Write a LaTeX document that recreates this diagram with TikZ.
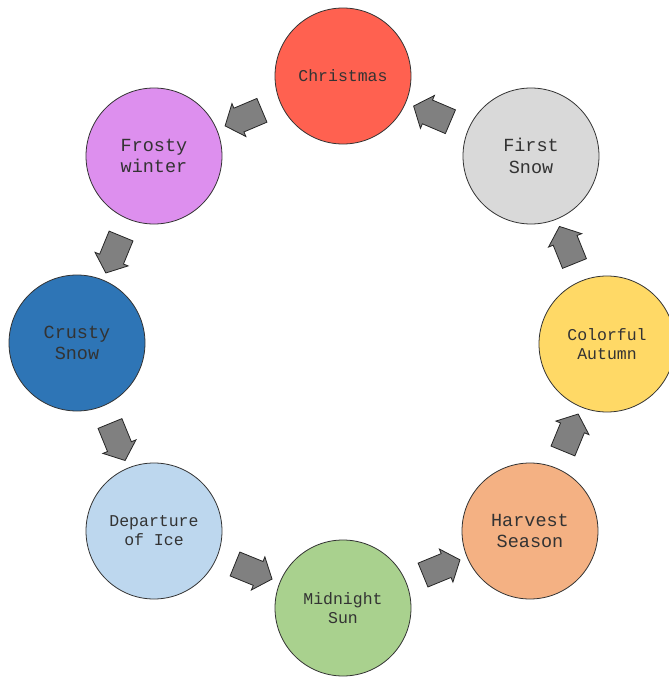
\documentclass[tikz,border=0pt]{standalone}
\usepackage{fontspec}
\setmonofont{Liberation Mono}
\usetikzlibrary{shapes.arrows,calc}
\definecolor{cRed}{HTML}{FF6150}
\definecolor{cGray}{HTML}{D9D9D9}
\definecolor{cYellow}{HTML}{FFD966}
\definecolor{cOrange}{HTML}{F4B183}
\definecolor{cGreen}{HTML}{A9D18E}
\definecolor{cLblue}{HTML}{BDD7EE}
\definecolor{cBlue}{HTML}{2E75B6}
\definecolor{cViolet}{HTML}{DD8FEE}
\definecolor{cText}{HTML}{333333}
\begin{document}
\begin{tikzpicture}[x=1pt,y=-1pt,
  season/.style={circle,draw=black!80,line width=0.8pt,minimum size=136pt,inner sep=0pt,
    align=center,text=cText,font=\ttfamily\fontsize{16.5}{19}\selectfont},
  big/.style={font=\ttfamily\fontsize{18.5}{21.5}\selectfont},
  blockarrow/.style={single arrow,draw=black!85,fill=black!50,line width=0.8pt,
    minimum height=40pt,single arrow head extend=5pt,inner sep=0pt,
    single arrow tip angle=100}]
\useasboundingbox (0,0) rectangle (669,680);
\node[season,fill=cRed] (xmas) at (343,76) {Christmas};
\node[season,big,fill=cGray] (first) at (531,156) {First\\Snow};
\node[season,fill=cYellow] (autumn) at (607,344) {Colorful\\Autumn};
\node[season,big,fill=cOrange] (harvest) at (530,531) {Harvest\\Season};
\node[season,fill=cGreen] (sun) at (343,608) {Midnight\\Sun};
\node[season,fill=cLblue] (ice) at (154,531) {Departure\\of Ice};
\node[season,big,fill=cBlue] (crusty) at (77,343) {Crusty\\Snow};
\node[season,big,fill=cViolet] (frosty) at (154,156) {Frosty\\winter};
\foreach \a/\b in {first/xmas,xmas/frosty,frosty/crusty,crusty/ice,ice/sun,sun/harvest,harvest/autumn,autumn/first}{
  \path let \p1=($(\b)-(\a)$) in node[blockarrow,rotate={atan2(\y1,\x1)}] (arr-\a) at ($(\a)!0.5!(\b)$) {\rule{0pt}{25pt}};
}
\end{tikzpicture}
\end{document}
